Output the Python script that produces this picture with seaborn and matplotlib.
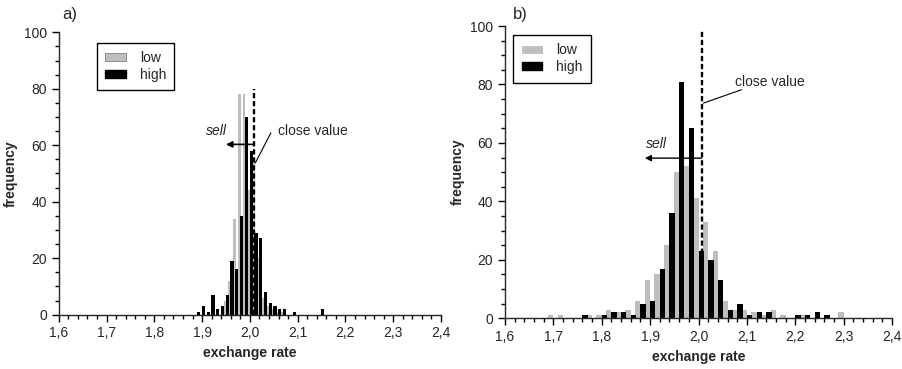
import numpy as np
import pandas as pd
import seaborn as sns
import matplotlib.pyplot as plt
from matplotlib.patches import Patch
from matplotlib.ticker import MultipleLocator, FuncFormatter

# panel a) - bins 0.01 wide (left edges)
bins_a = [1.89, 1.90, 1.91, 1.92, 1.93, 1.94, 1.95, 1.96, 1.97, 1.98, 1.99,
          2.00, 2.01, 2.02, 2.03, 2.04, 2.05, 2.06, 2.07, 2.08, 2.09, 2.10,
          2.11, 2.12, 2.13, 2.14, 2.15]
low_a = [0, 0, 0, 0, 0, 0, 5, 12, 34, 78, 78,
         44, 54, 20, 6, 3, 2, 1, 1, 0, 0, 0,
         0, 0, 0, 0, 0]
high_a = [1, 3, 1, 7, 2, 3, 7, 19, 16, 35, 70,
          58, 29, 27, 8, 4, 3, 2, 2, 0, 1, 0,
          0, 0, 0, 0, 2]
close_a = 2.009

# panel b) - bins 0.02 wide (left edges)
bins_b = [1.68, 1.70, 1.72, 1.74, 1.76, 1.78, 1.80, 1.82, 1.84, 1.86, 1.88,
          1.90, 1.92, 1.94, 1.96, 1.98, 2.00, 2.02, 2.04, 2.06, 2.08, 2.10,
          2.12, 2.14, 2.16, 2.18, 2.20, 2.22, 2.24, 2.26, 2.28]
low_b = [1, 1, 0, 0, 1, 1, 3, 2, 3, 6, 13,
         15, 25, 50, 52, 41, 33, 23, 6, 3, 3, 2,
         1, 3, 1, 0, 1, 0, 0, 0, 2]
high_b = [0, 0, 0, 0, 1, 0, 1, 2, 2, 1, 5,
          6, 17, 36, 81, 65, 23, 20, 13, 3, 5, 1,
          2, 2, 0, 0, 1, 1, 2, 1, 0]
close_b = 2.0065

GREY = '#bebebe'

sns.set_style('ticks')
plt.rcParams['font.family'] = ['Liberation Sans', 'DejaVu Sans']
plt.rcParams['font.size'] = 10
plt.rcParams['axes.linewidth'] = 1.0


def draw_bars(ax, bins, counts, binwidth, offset, shrink, color):
    df = pd.DataFrame({'rate': np.asarray(bins) + offset, 'count': counts})
    lo = df['rate'].min() - binwidth / 2
    hi = df['rate'].max() + binwidth / 2
    sns.histplot(data=df, x='rate', weights='count', binwidth=binwidth,
                 binrange=(lo, hi), shrink=shrink, color=color,
                 edgecolor='none', linewidth=0, alpha=1, ax=ax)


def style_axes(ax):
    ax.set_xlim(1.6, 2.4)
    ax.set_ylim(0, 100)
    ax.xaxis.set_major_locator(MultipleLocator(0.1))
    ax.xaxis.set_minor_locator(MultipleLocator(0.02))
    ax.yaxis.set_major_locator(MultipleLocator(20))
    ax.yaxis.set_minor_locator(MultipleLocator(5))
    ax.xaxis.set_major_formatter(
        FuncFormatter(lambda v, p: f'{v:.1f}'.replace('.', ',')))
    ax.tick_params(which='major', length=5, width=1, direction='out',
                   labelsize=10, color='black')
    ax.tick_params(which='minor', length=3, width=1, color='black')
    sns.despine(ax=ax)
    ax.set_xlabel('exchange rate', fontweight='bold', fontsize=10)
    ax.set_ylabel('frequency', fontweight='bold', fontsize=10)


def add_legend(ax, anchor, grey_edge):
    handles = [Patch(facecolor=GREY, edgecolor=grey_edge, linewidth=0.6),
               Patch(facecolor='black', edgecolor='black')]
    leg = ax.legend(handles, ['low', 'high'], loc='upper left',
                    bbox_to_anchor=anchor, borderaxespad=0, fancybox=False,
                    framealpha=1, edgecolor='black', fontsize=10,
                    handlelength=1.5, handleheight=0.5, handletextpad=1.0,
                    labelspacing=0.2, borderpad=0.6)
    leg.get_frame().set_linewidth(1.0)


fig = plt.figure(figsize=(9.02, 3.69), dpi=100)
ax_a = fig.add_axes([0.0651, 0.1472, 0.4238, 0.7653])
ax_b = fig.add_axes([0.5599, 0.1374, 0.4290, 0.7921])

# a)
draw_bars(ax_a, bins_a, low_a, 0.01, -0.0023, 0.55, GREY)
draw_bars(ax_a, bins_a, high_a, 0.01, 0.0027, 0.68, 'black')
style_axes(ax_a)
ax_a.plot([close_a, close_a], [0, 80], color='black', lw=1.7, dashes=(2.2, 1.2))
ax_a.annotate('', xy=(1.950, 60.3), xytext=(close_a, 60.3),
              arrowprops=dict(arrowstyle='-|>', color='black', lw=1.2,
                              mutation_scale=9, shrinkA=0, shrinkB=0))
ax_a.text(1.931, 65, 'sell', style='italic', ha='center', va='center', fontsize=10)
ax_a.text(2.059, 65, 'close value', ha='left', va='center', fontsize=10)
ax_a.plot([2.044, 2.0113], [64.4, 53.7], color='black', lw=0.8)
add_legend(ax_a, (0.0994, 0.963), '#808080')

# b)
draw_bars(ax_b, bins_b, low_b, 0.02, 0.0145, 0.55, GREY)
draw_bars(ax_b, bins_b, high_b, 0.02, 0.0055, 0.55, 'black')
style_axes(ax_b)
ax_b.plot([close_b, close_b], [0, 99], color='black', lw=1.7, dashes=(2.2, 1.2))
ax_b.annotate('', xy=(1.889, 54.8), xytext=(close_b, 54.8),
              arrowprops=dict(arrowstyle='-|>', color='black', lw=1.0,
                              mutation_scale=9, shrinkA=0, shrinkB=0))
ax_b.text(1.914, 59.5, 'sell', style='italic', ha='center', va='center', fontsize=10)
ax_b.text(2.075, 81, 'close value', ha='left', va='center', fontsize=10)
ax_b.plot([2.089, 2.0097], [78.2, 73.6], color='black', lw=0.8)
add_legend(ax_b, (0.0214, 0.969), GREY)

fig.text(0.069, 0.98, 'a)', fontsize=12, va='top', ha='left')
fig.text(0.569, 0.98, 'b)', fontsize=12, va='top', ha='left')

fig.savefig('out.png', dpi=100)
